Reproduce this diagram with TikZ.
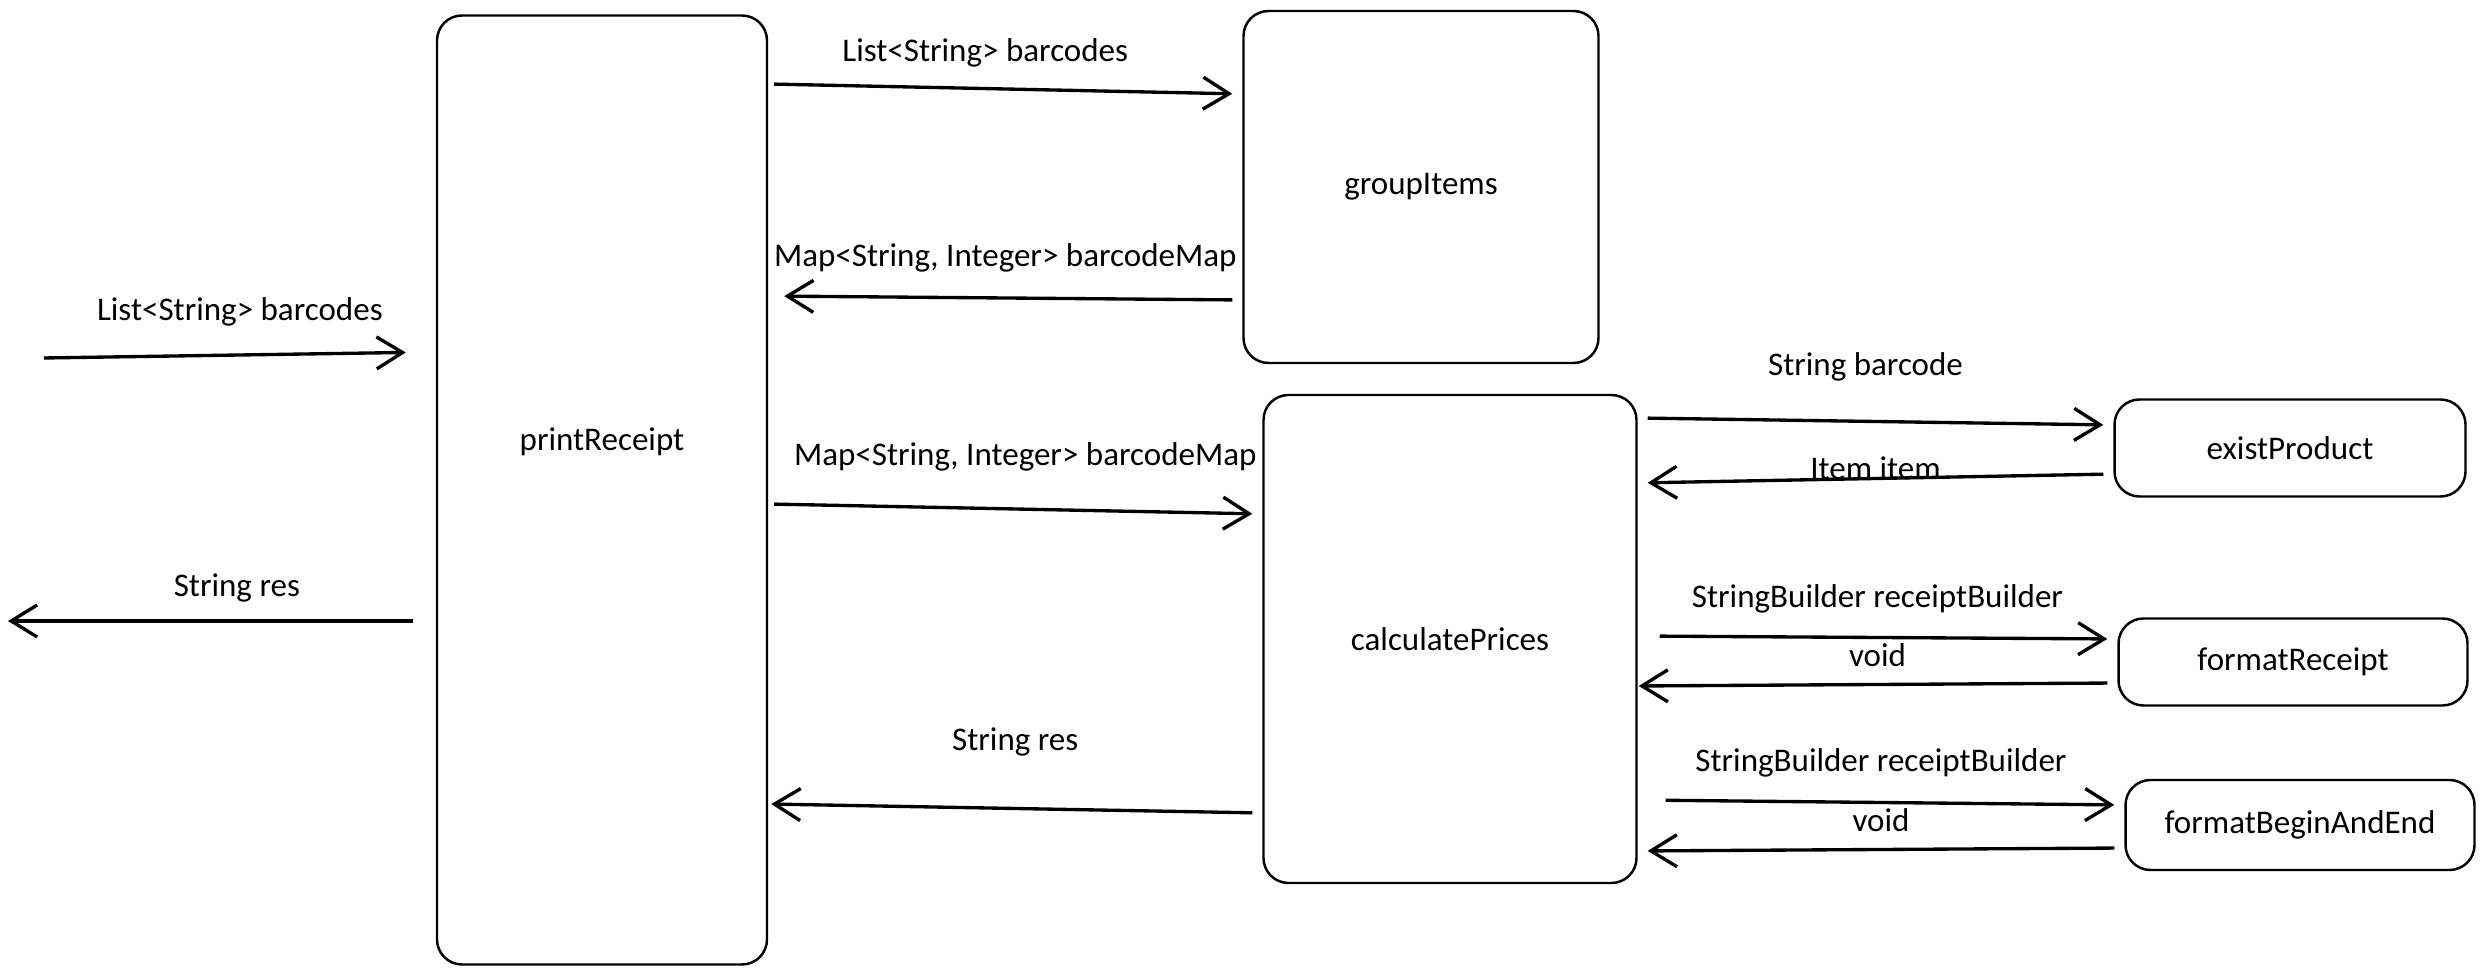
\documentclass[tikz,border=0pt]{standalone}
\usepackage{fontspec}
\setmainfont{Carlito}
\usetikzlibrary{arrows.meta}

\begin{document}
\begin{tikzpicture}[x=0.1mm,y=-0.1mm,
  box/.style={draw,rounded corners=2.5mm,line width=0.7pt,font=\fontsize{9.4}{12}\selectfont},
  arr/.style={-{Straight Barb[length=2.6mm,width=3.2mm]},line width=0.95pt,shorten <=1mm,shorten >=1mm},
  lbl/.style={font=\fontsize{9.4}{12}\selectfont}]
\useasboundingbox (0,0) rectangle (2485,976);
\node[box,minimum width=33mm,minimum height=94.9mm,label={[lbl,yshift=4.8mm]center:printReceipt}] (print) at (602,490) {};
\node[box,minimum width=35.5mm,minimum height=35.2mm] (group) at (1421,187) {groupItems};
\node[box,minimum width=37.3mm,minimum height=48.8mm] (calc) at (1450,639) {calculatePrices};
\node[box,minimum width=35.1mm,minimum height=9.7mm] (exist) at (2290,448) {existProduct};
\node[box,minimum width=34.9mm,minimum height=8.7mm] (fmt) at (2293,662) {formatReceipt};
\node[box,minimum width=34.9mm,minimum height=9mm] (fbe) at (2300,825) {formatBeginAndEnd};
\coordinate (input) at (44,358);
\coordinate (output) at (8,621);
\draw[arr,shorten <=0pt,shorten >=3mm] (input) -- (print.west |- 0,352) node[lbl,midway,yshift=4.3mm] {List<String> barcodes};
\draw[arr,shorten <=2.3mm,shorten >=0pt] (print.west |- 0,621) -- (output) node[lbl,midway,xshift=1.5mm,yshift=3.3mm] {String res};
\draw[arr,shorten <=0.6mm] (print.east |- 0,84) -- (group.west |- 0,94) node[lbl,midway,xshift=-2mm,yshift=3.6mm] {List<String> barcodes};
\draw[arr,shorten >=1.6mm] (group.west |- 0,300) -- (print.east |- 0,296) node[lbl,midway,yshift=4mm] {Map<String, Integer> barcodeMap};
\draw[arr,shorten <=0.6mm] (print.east |- 0,504) -- (calc.west |- 0,514) node[lbl,midway,xshift=1mm,yshift=5.2mm] {Map<String, Integer> barcodeMap};
\draw[arr,shorten >=0.3mm] (calc.west |- 0,813) -- (print.east |- 0,804) node[lbl,midway,yshift=6.7mm] {String res};
\draw[arr] (calc.east |- 0,418) -- (exist.west |- 0,425) node[lbl,midway,xshift=-1mm,yshift=5.5mm] {String barcode};
\draw[arr] (exist.west |- 0,474) -- (calc.east |- 0,483) node[lbl,midway,yshift=1mm] {Item item};
\draw[arr,shorten <=2.2mm] (calc.east |- 0,636) -- (fmt.west |- 0,639) node[lbl,midway,yshift=3.9mm] {StringBuilder receiptBuilder};
\draw[arr,shorten >=0.1mm] (fmt.west |- 0,683) -- (calc.east |- 0,686) node[lbl,midway,yshift=2.9mm] {void};
\draw[arr,shorten <=2.8mm] (calc.east |- 0,800) -- (fbe.west |- 0,805) node[lbl,midway,yshift=4mm] {StringBuilder receiptBuilder};
\draw[arr] (fbe.west |- 0,848) -- (calc.east |- 0,851) node[lbl,midway,yshift=2.9mm] {void};
\end{tikzpicture}
\end{document}
